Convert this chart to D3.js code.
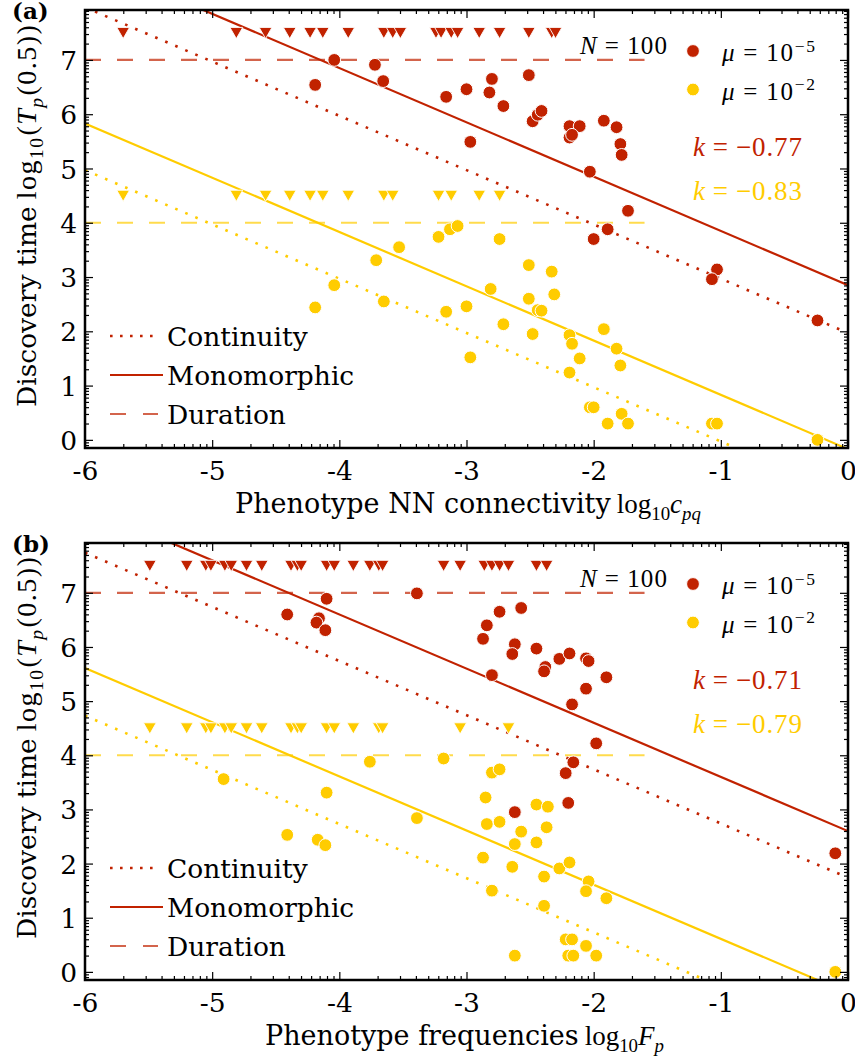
<!DOCTYPE html>
<html>
<head>
<meta charset="utf-8">
<script src="https://cdn.jsdelivr.net/npm/d3@7"></script>
<style>
  body { margin: 0; background: #fff; }
  svg { display: block; }
</style>
</head>
<body>
<svg id="fig" width="855" height="1060"></svg>
<script>
// ---- axes ----
const X_DOMAIN = [-6, 0];
const Y_DOMAIN = [-0.15, 7.92];
const X_TICKS = [-6, -5, -4, -3, -2, -1, 0];
const X_TICK_LABELS = ["-6", "-5", "-4", "-3", "-2", "-1", "0"];
const Y_TICKS = [0, 1, 2, 3, 4, 5, 6, 7];
const Y_TICK_LABELS = ["0", "1", "2", "3", "4", "5", "6", "7"];

// ---- shared reference levels ----
const CENSORED_LEVELS = [7.5, 4.5];   // runs that never found the phenotype (mu=1e-5, mu=1e-2)
const DURATION_LEVELS = [7, 4];       // log10 of run length
const DURATION_END = -1.6;
const FIT_SLOPE = -1;

// ---- (a) NN connectivity ----
const aRedCensored = [-5.70, -4.81, -4.58, -4.39, -4.23, -4.13, -3.93, -3.65, -3.58, -3.52,
  -3.24, -3.20, -3.12, -3.07, -2.90, -2.74, -2.51, -2.33, -2.30];
const aYellowCensored = [-5.70, -4.81, -4.58, -4.39, -4.23, -4.13, -3.93, -3.65, -3.58,
  -3.22, -3.12, -2.90, -2.74];
const aRedPoints = [
  [-4.04, 7.00], [-3.72, 6.91], [-3.655, 6.61], [-4.19, 6.54], [-3.16, 6.32], [-3.00, 6.46],
  [-2.97, 5.49], [-2.80, 6.65], [-2.82, 6.40], [-2.71, 6.15], [-2.51, 6.72], [-2.48, 5.87],
  [-2.44, 5.99], [-2.41, 6.06], [-2.19, 5.78], [-2.11, 5.78], [-2.19, 5.57], [-2.17, 5.62],
  [-1.92, 5.88], [-1.82, 5.76], [-1.79, 5.45], [-1.78, 5.25], [-2.03, 4.94], [-1.73, 4.22],
  [-1.89, 3.88], [-2.00, 3.70], [-1.03, 3.14], [-1.07, 2.96], [-0.24, 2.20]
];
const aYellowPoints = [
  [-3.22, 3.74], [-3.13, 3.88], [-3.07, 3.94], [-2.74, 3.70], [-4.19, 2.44], [-4.04, 2.85],
  [-3.71, 3.31], [-3.53, 3.55], [-3.65, 2.55], [-3.16, 2.36], [-3.00, 2.46], [-2.97, 1.52],
  [-2.51, 3.22], [-2.33, 3.10], [-2.81, 2.78], [-2.51, 2.60], [-2.31, 2.68], [-2.44, 2.39],
  [-2.41, 2.38], [-2.71, 2.13], [-2.48, 1.95], [-2.19, 1.93], [-2.17, 1.77], [-1.92, 2.04],
  [-2.11, 1.50], [-1.82, 1.68], [-1.79, 1.37], [-2.19, 1.24], [-2.03, 0.60], [-2.00, 0.60],
  [-1.78, 0.48], [-1.89, 0.30], [-1.73, 0.30], [-1.07, 0.30], [-1.03, 0.30], [-0.24, 0.00]
];
const aContinuityIntercepts = [1.97, -1.03];   // red, yellow (value at x = 0)
const aMonomorphicIntercepts = [2.85, -0.17];
const aSlopeLabels = ["\u22120.77", "\u22120.83"];

// ---- (b) phenotype frequencies ----
const bRedCensored = [-5.49, -5.20, -5.05, -5.01, -4.90, -4.85, -4.73, -4.61, -4.38, -4.33,
  -4.30, -4.10, -4.04, -3.89, -3.76, -3.69, -3.66, -3.18, -3.05, -2.86, -2.80, -2.74, -2.67,
  -2.45, -2.37];
const bYellowCensored = [-5.49, -5.20, -5.05, -5.01, -4.90, -4.85, -4.73, -4.61, -4.38, -4.33,
  -4.30, -4.10, -4.04, -3.89, -3.69, -3.66, -3.05, -2.67];
const bRedPoints = [
  [-4.10, 6.89], [-3.39, 6.99], [-4.41, 6.60], [-4.16, 6.53], [-4.18, 6.45], [-4.11, 6.31],
  [-2.57, 6.72], [-2.74, 6.65], [-2.84, 6.40], [-2.87, 6.15], [-2.62, 6.05], [-2.64, 5.87],
  [-2.45, 5.97], [-2.38, 5.63], [-2.39, 5.55], [-2.27, 5.78], [-2.19, 5.88], [-2.06, 5.79],
  [-2.04, 5.74], [-1.90, 5.44], [-2.06, 5.23], [-2.80, 5.48], [-2.17, 4.94], [-1.98, 4.22],
  [-2.16, 3.87], [-2.22, 3.67], [-2.20, 3.12], [-2.62, 2.95], [-0.10, 2.19]
];
const bYellowPoints = [
  [-3.76, 3.88], [-3.18, 3.94], [-4.91, 3.56], [-4.10, 3.31], [-3.39, 2.84], [-4.41, 2.53],
  [-4.17, 2.44], [-4.11, 2.34], [-2.80, 3.68], [-2.74, 3.74], [-2.85, 3.22], [-2.45, 3.09],
  [-2.36, 3.05], [-2.84, 2.73], [-2.74, 2.77], [-2.57, 2.59], [-2.37, 2.67], [-2.62, 2.36],
  [-2.45, 2.39], [-2.87, 2.11], [-2.64, 1.94], [-2.27, 1.91], [-2.19, 2.02], [-2.39, 1.76],
  [-2.04, 1.67], [-2.06, 1.49], [-1.90, 1.36], [-2.80, 1.50], [-2.39, 1.22], [-2.22, 0.60],
  [-2.17, 0.60], [-2.06, 0.48], [-2.62, 0.30], [-2.20, 0.30], [-2.16, 0.30], [-1.98, 0.30],
  [-0.10, 0.00]
];
const bContinuityIntercepts = [1.74, -1.27];
const bMonomorphicIntercepts = [2.60, -0.39];
const bSlopeLabels = ["\u22120.71", "\u22120.79"];

// ---- legend text ----
const LINE_LEGEND = ["Continuity", "Monomorphic", "Duration"];
const MU_EXPONENTS = ["\u22125", "\u22122"];

// ---- style ----
const COLORS = ["#c12200", "#ffcc00"];
const TEXT_FONT = "'DejaVu Serif', serif";
const MATH_FONT = "'Liberation Serif', 'Times New Roman', serif";
const TEXT_SIZE = 26.5;
const LEFT = 85, RIGHT = 848;

const svg = d3.select("#fig");

// Builds a math-style label from parts; sub/sup parts are shrunk and shifted.
// An optional total width is applied through textLength.
function mathText(parent, x, y, parts, size, width, color) {
  const t = parent.append("text")
    .attr("x", x).attr("y", y)
    .attr("font-family", MATH_FONT)
    .attr("font-size", size)
    .attr("fill", color || "#000");
  let shift = 0;
  parts.forEach(p => {
    const s = t.append("tspan").text(p.t);
    if (p.it) s.attr("font-style", "italic");
    let target = 0;
    if (p.sub) { s.attr("font-size", size * 0.7); target = size * 0.25; }
    if (p.sup) { s.attr("font-size", size * 0.7); target = -size * 0.38; }
    if (target !== shift) { s.attr("dy", target - shift); shift = target; }
    if (p.gap) s.attr("dx", p.gap);
  });
  if (width) t.attr("textLength", width).attr("lengthAdjust", "spacing");
  return t;
}

function minorTicks(lo, hi) {
  const out = [];
  for (let n = Math.floor(lo) - 1; n <= Math.ceil(hi); n++) {
    for (let k = 2; k <= 9; k++) {
      const v = n + Math.log10(k);
      if (v > lo && v < hi) out.push(v);
    }
  }
  return out;
}

function styleAxis(sel) {
  sel.select(".domain").remove();
  sel.selectAll(".tick line").attr("stroke", "#000").attr("stroke-width", 1.2);
  sel.selectAll("text").attr("font-family", TEXT_FONT).attr("font-size", TEXT_SIZE).attr("fill", "#000");
}

function drawPanel(p) {
  const g = svg.append("g");
  const x = d3.scaleLinear().domain(X_DOMAIN).range([LEFT, RIGHT]);
  const y = d3.scaleLinear().domain(Y_DOMAIN).range([p.bottom, p.top]);

  svg.append("clipPath").attr("id", "clip-" + p.id)
    .append("rect").attr("x", LEFT).attr("y", p.top)
    .attr("width", RIGHT - LEFT).attr("height", p.bottom - p.top);
  const plot = g.append("g").attr("clip-path", `url(#clip-${p.id})`);

  // duration levels
  DURATION_LEVELS.forEach((lev, i) => {
    plot.append("line")
      .attr("x1", x(X_DOMAIN[0])).attr("x2", x(DURATION_END))
      .attr("y1", y(lev)).attr("y2", y(lev))
      .attr("stroke", COLORS[i]).attr("stroke-opacity", 0.7)
      .attr("stroke-width", 2.2).attr("stroke-dasharray", "16,16");
  });

  // fitted lines with fixed slope
  const fitLine = (b) => [[X_DOMAIN[0], b + FIT_SLOPE * X_DOMAIN[0]], [X_DOMAIN[1], b + FIT_SLOPE * X_DOMAIN[1]]];
  const line = d3.line().x(d => x(d[0])).y(d => y(d[1]));
  p.continuity.forEach((b, i) => {
    plot.append("path").attr("d", line(fitLine(b)))
      .attr("fill", "none").attr("stroke", COLORS[i])
      .attr("stroke-width", 2.6).attr("stroke-dasharray", "2.6,8.3");
  });
  p.monomorphic.forEach((b, i) => {
    plot.append("path").attr("d", line(fitLine(b)))
      .attr("fill", "none").attr("stroke", COLORS[i]).attr("stroke-width", 2.2);
  });

  // censored runs (down triangles)
  const tri = (cx, cy) => `M${cx - 6.4},${cy - 5.4}L${cx + 6.4},${cy - 5.4}L${cx},${cy + 5.8}Z`;
  [p.yellowCensored, p.redCensored].forEach((arr, j) => {
    const ci = j === 0 ? 1 : 0;
    plot.append("g").selectAll("path").data(arr).join("path")
      .attr("d", d => tri(x(d), y(CENSORED_LEVELS[ci])))
      .attr("fill", COLORS[ci]).attr("stroke", "#fff").attr("stroke-width", 0.9);
  });

  // discovery times
  [p.yellowPoints, p.redPoints].forEach((arr, j) => {
    const ci = j === 0 ? 1 : 0;
    plot.append("g").selectAll("circle").data(arr).join("circle")
      .attr("cx", d => x(d[0])).attr("cy", d => y(d[1])).attr("r", 6.4)
      .attr("fill", COLORS[ci]).attr("stroke", "#fff").attr("stroke-width", 1);
  });

  // ticks on all four sides, pointing inward
  const xMinor = minorTicks(X_DOMAIN[0], X_DOMAIN[1]);
  const yMinor = minorTicks(Y_DOMAIN[0], Y_DOMAIN[1]);

  g.append("g").attr("transform", `translate(0,${p.bottom})`)
    .call(d3.axisBottom(x).tickValues(X_TICKS).tickFormat((d, i) => X_TICK_LABELS[i])
      .tickSizeInner(-8).tickSizeOuter(0).tickPadding(13))
    .call(styleAxis);
  g.append("g").attr("transform", `translate(0,${p.bottom})`)
    .call(d3.axisBottom(x).tickValues(xMinor).tickFormat("").tickSizeInner(-4).tickSizeOuter(0))
    .call(styleAxis);
  g.append("g").attr("transform", `translate(0,${p.top})`)
    .call(d3.axisTop(x).tickValues(X_TICKS).tickFormat("").tickSizeInner(-8).tickSizeOuter(0))
    .call(styleAxis);
  g.append("g").attr("transform", `translate(0,${p.top})`)
    .call(d3.axisTop(x).tickValues(xMinor).tickFormat("").tickSizeInner(-4).tickSizeOuter(0))
    .call(styleAxis);

  const yAx = g.append("g").attr("transform", `translate(${LEFT},0)`)
    .call(d3.axisLeft(y).tickValues(Y_TICKS).tickFormat((d, i) => Y_TICK_LABELS[i])
      .tickSizeInner(-8).tickSizeOuter(0).tickPadding(8))
    .call(styleAxis);
  yAx.selectAll("text").attr("dy", "0.36em");
  g.append("g").attr("transform", `translate(${LEFT},0)`)
    .call(d3.axisLeft(y).tickValues(yMinor).tickFormat("").tickSizeInner(-4).tickSizeOuter(0))
    .call(styleAxis);
  g.append("g").attr("transform", `translate(${RIGHT},0)`)
    .call(d3.axisRight(y).tickValues(Y_TICKS).tickFormat("").tickSizeInner(-8).tickSizeOuter(0))
    .call(styleAxis);
  g.append("g").attr("transform", `translate(${RIGHT},0)`)
    .call(d3.axisRight(y).tickValues(yMinor).tickFormat("").tickSizeInner(-4).tickSizeOuter(0))
    .call(styleAxis);

  // frame
  g.append("rect").attr("x", LEFT).attr("y", p.top)
    .attr("width", RIGHT - LEFT).attr("height", p.bottom - p.top)
    .attr("fill", "none").attr("stroke", "#000").attr("stroke-width", 2.5);

  // panel tag
  g.append("text").attr("x", 12).attr("y", p.top + 9)
    .attr("font-family", TEXT_FONT).attr("font-weight", "bold").attr("font-size", 23)
    .text(p.tag);

  // x title
  const xt = g.append("text").attr("x", p.xTitleStart).attr("y", p.bottom + 65)
    .attr("font-family", TEXT_FONT).attr("font-size", 27).text(p.xName);
  const xw = xt.node().getComputedTextLength();
  mathText(g, p.xTitleStart + xw + 6, p.bottom + 65, p.xMath, 27);

  // y title (rotated)
  const yg = g.append("g").attr("transform", `translate(36,${p.bottom - 41}) rotate(-90)`);
  const yt = yg.append("text").attr("x", 0).attr("y", 0)
    .attr("font-family", TEXT_FONT).attr("font-size", 26.5).text("Discovery time");
  const yw = yt.node().getComputedTextLength();
  mathText(yg, yw + 7, 0, [
    { t: "log" }, { t: "10", sub: 1 }, { t: "(", gap: 1 }, { t: "T", it: 1 }, { t: "p", it: 1, sub: 1 },
    { t: "(0.5))", gap: 1 }
  ], 28, 174);

  // line legend (lower left)
  const legBase = [p.bottom - 102, p.bottom - 63, p.bottom - 24];
  const legStyles = [
    { dash: "2.6,7.4", w: 2.6, op: 1, x2: 157 },
    { dash: null, w: 2.2, op: 1, x2: 163 },
    { dash: "16,17", w: 2.2, op: 0.7, x2: 158 }
  ];
  LINE_LEGEND.forEach((name, i) => {
    const st = legStyles[i];
    const ln = g.append("line").attr("x1", 110).attr("x2", st.x2)
      .attr("y1", legBase[i] - 10).attr("y2", legBase[i] - 10)
      .attr("stroke", COLORS[0]).attr("stroke-width", st.w).attr("stroke-opacity", st.op);
    if (st.dash) ln.attr("stroke-dasharray", st.dash);
    g.append("text").attr("x", 167).attr("y", legBase[i])
      .attr("font-family", TEXT_FONT).attr("font-size", TEXT_SIZE).text(name);
  });

  // population size and mutation-rate legend (upper right)
  mathText(g, 580, p.top + 44, [{ t: "N", it: 1 }, { t: "=", gap: 7 }, { t: "100", gap: 7 }], 25, 87);
  MU_EXPONENTS.forEach((ex, i) => {
    const by = p.top + (i === 0 ? 51 : 89.5);
    g.append("circle").attr("cx", 693).attr("cy", by - 10).attr("r", 6.4)
      .attr("fill", COLORS[i]).attr("stroke", "#fff").attr("stroke-width", 1);
    mathText(g, 722, by, [{ t: "\u03bc", it: 1 }, { t: "=", gap: 7 }, { t: "10", gap: 7 }, { t: ex, sup: 1 }], 25, 93);
  });

  // fitted exponents
  p.slopeLabels.forEach((lab, i) => {
    mathText(g, 693, p.top + (i === 0 ? 146 : 189.5),
      [{ t: "k", it: 1 }, { t: "=", gap: 7 }, { t: lab, gap: 7 }], 27, 109, COLORS[i]);
  });
}

drawPanel({
  id: "a", top: 10, bottom: 448, tag: "(a)",
  xName: "Phenotype NN connectivity", xTitleStart: 235,
  xMath: [{ t: "log" }, { t: "10", sub: 1 }, { t: "c", it: 1 }, { t: "pq", it: 1, sub: 1 }],
  redCensored: aRedCensored, yellowCensored: aYellowCensored,
  redPoints: aRedPoints, yellowPoints: aYellowPoints,
  continuity: aContinuityIntercepts, monomorphic: aMonomorphicIntercepts,
  slopeLabels: aSlopeLabels
});

drawPanel({
  id: "b", top: 543, bottom: 980, tag: "(b)",
  xName: "Phenotype frequencies", xTitleStart: 265,
  xMath: [{ t: "log" }, { t: "10", sub: 1 }, { t: "F", it: 1 }, { t: "p", it: 1, sub: 1 }],
  redCensored: bRedCensored, yellowCensored: bYellowCensored,
  redPoints: bRedPoints, yellowPoints: bYellowPoints,
  continuity: bContinuityIntercepts, monomorphic: bMonomorphicIntercepts,
  slopeLabels: bSlopeLabels
});
</script>
</body>
</html>
